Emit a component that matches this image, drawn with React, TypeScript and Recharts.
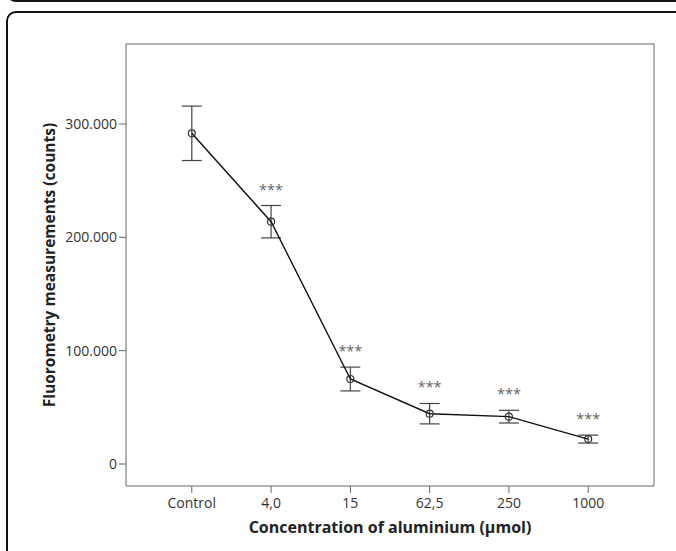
import React from 'react';
import { ComposedChart, Line, XAxis, YAxis, ErrorBar, LabelList } from 'recharts';

const categories = ['Control', '4,0', '15', '62,5', '250', '1000'];
const means = [291800, 213800, 75000, 44400, 41800, 22000];
const errors = [24000, 14300, 10500, 9000, 5600, 3500];
const significance = ['', '***', '***', '***', '***', '***'];
const yTicks = [0, 100000, 200000, 300000];

const data = categories.map((c, i) => ({
  idx: i,
  name: c,
  mean: means[i],
  err: errors[i],
  upper: means[i] + errors[i],
  sig: significance[i],
}));

const FONT = '"Open Sans", "DejaVu Sans", sans-serif';
const xDomain = [-0.83, 5.83];
const yDomain = [-19400, 370600];

const fmtY = (v: number) => (v === 0 ? '0' : `${Math.round(v / 1000)}.000`);

export default function App() {
  return (
    <div
      style={{
        position: 'absolute',
        left: 0,
        top: 0,
        width: 676,
        height: 551,
        overflow: 'hidden',
        background: '#fff',
      }}
    >
      <div
        style={{
          position: 'absolute',
          left: 6,
          top: -28,
          width: 720,
          height: 30,
          border: '2px solid #111',
          borderRadius: 10,
          boxSizing: 'border-box',
        }}
      />
      <div
        style={{
          position: 'absolute',
          left: 6,
          top: 11,
          width: 720,
          height: 600,
          border: '2px solid #111',
          borderRadius: 10,
          boxSizing: 'border-box',
        }}
      />
      <div style={{ position: 'absolute', left: 0, top: 0 }}>
        <ComposedChart
          width={676}
          height={551}
          data={data}
          margin={{ top: 43, right: 21, bottom: 0, left: 56 }}
        >
          <XAxis
            dataKey="idx"
            type="number"
            domain={xDomain}
            ticks={[0, 1, 2, 3, 4, 5]}
            tickFormatter={(v: number) => categories[v] ?? ''}
            allowDataOverflow
            height={65}
            tickSize={7}
            tickMargin={5}
            stroke="#666"
            tick={{ fill: '#333', fontSize: 14, fontFamily: FONT }}
            label={{
              content: (p: any) => {
                const vb = p.viewBox || {};
                return (
                  <text
                    x={vb.x + vb.width / 2}
                    y={533}
                    textAnchor="middle"
                    fontFamily={FONT}
                    fontWeight="bold"
                    fontSize={16}
                    fill="#222"
                  >
                    Concentration of aluminium (µmol)
                  </text>
                );
              },
            }}
          />
          <XAxis
            xAxisId="top"
            orientation="top"
            dataKey="idx"
            type="number"
            domain={xDomain}
            allowDataOverflow
            height={1}
            tick={false}
            tickLine={false}
            stroke="#666"
          />
          <YAxis
            type="number"
            domain={yDomain}
            allowDataOverflow
            ticks={yTicks}
            tickFormatter={fmtY}
            width={70}
            tickSize={7}
            tickMargin={2}
            stroke="#666"
            tick={{ fill: '#333', fontSize: 14, fontFamily: FONT }}
            label={{
              content: (p: any) => {
                const vb = p.viewBox || {};
                const cx = 49;
                const cy = vb.y + vb.height / 2;
                return (
                  <text
                    x={cx}
                    y={cy}
                    transform={`rotate(-90, ${cx}, ${cy})`}
                    textAnchor="middle"
                    dominantBaseline="central"
                    fontFamily={FONT}
                    fontWeight="bold"
                    fontSize={15.5}
                    fill="#222"
                  >
                    Fluorometry measurements (counts)
                  </text>
                );
              },
            }}
          />
          <YAxis
            yAxisId="right"
            orientation="right"
            type="number"
            domain={yDomain}
            allowDataOverflow
            width={1}
            tick={false}
            tickLine={false}
            stroke="#666"
          />
          <Line
            xAxisId="top"
            yAxisId="right"
            dataKey="upper"
            stroke="none"
            dot={false}
            activeDot={false}
            isAnimationActive={false}
          >
            <LabelList
              dataKey="sig"
              position="top"
              offset={11}
              fill="#666"
              fontSize={14.5}
              fontFamily={FONT}
            />
          </Line>
          <Line
            dataKey="mean"
            stroke="#111"
            strokeWidth={1.4}
            dot={{ r: 3.5, stroke: '#333', strokeWidth: 1.2, fill: 'none' }}
            activeDot={false}
            isAnimationActive={false}
          >
            <ErrorBar dataKey="err" width={10} stroke="#444" strokeWidth={1.2} direction="y" />
          </Line>
        </ComposedChart>
      </div>
    </div>
  );
}
